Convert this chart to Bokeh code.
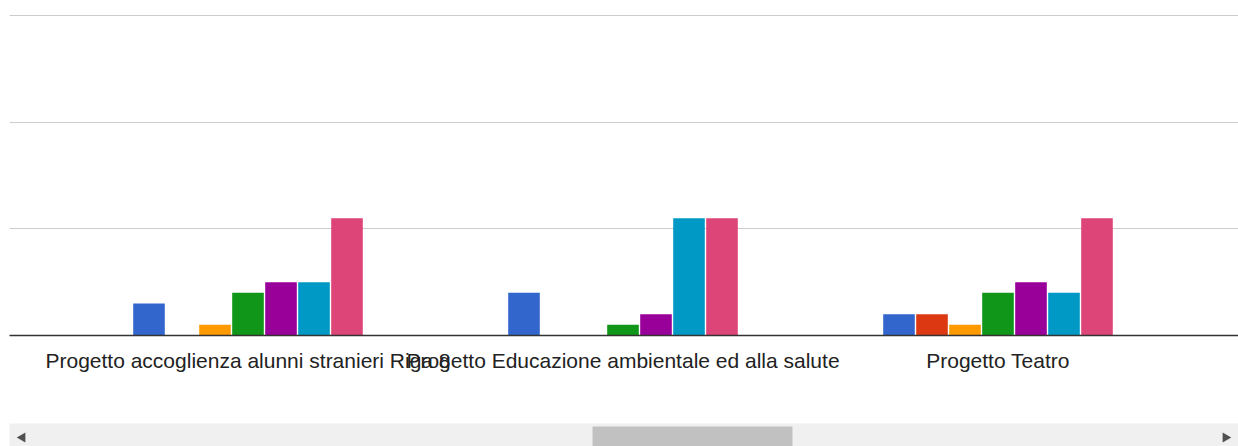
from bokeh.plotting import figure
from bokeh.models import Range1d, FixedTicker, ColumnDataSource
from bokeh.layouts import column
from bokeh.transform import dodge
from bokeh.embed import file_html
from bokeh.resources import INLINE
import math

# ---------------- data ----------------
categories = [
    "Progetto accoglienza alunni stranieri Riga 8",
    "Progetto Educazione ambientale ed alla salute",
    "Progetto Teatro",
]
series_names = ["1", "2", "3", "4", "5", "6", "7"]
series_colors = ["#3366cc", "#dc3912", "#ff9900", "#109618", "#990099", "#0099c6", "#dd4477"]
serie_1 = [3, 4, 2]
serie_2 = [0, 0, 2]
serie_3 = [1, 0, 1]
serie_4 = [4, 1, 4]
serie_5 = [5, 2, 5]
serie_6 = [5, 11, 4]
serie_7 = [11, 11, 11]
series_values = [serie_1, serie_2, serie_3, serie_4, serie_5, serie_6, serie_7]
grid_ticks = [10, 20, 30]

# ---------------- layout constants ----------------
W = 1238
H_CHART = 423
H_SCROLL = 23
LEFT = 9
PX_PER_CAT = 375.0
FRAME_H = 335
Y_TOP = 30 * FRAME_H / 320.0
X_START = (LEFT - 60) / PX_PER_CAT
X_END = X_START + (W - LEFT) / PX_PER_CAT
SLOT = 33.0 / PX_PER_CAT
BAR_W = 31.6 / PX_PER_CAT

data = {"x": [i + 0.5 for i in range(len(categories))]}
for name, vals in zip(series_names, series_values):
    data[name] = vals
src = ColumnDataSource(data)

p = figure(
    width=W, height=H_CHART, output_backend="svg", toolbar_location=None,
    x_range=Range1d(X_START, X_END), y_range=Range1d(0, Y_TOP),
    y_axis_location=None,
    min_border_left=LEFT, min_border_right=0, min_border_top=0,
    min_border_bottom=H_CHART - FRAME_H,
    outline_line_color=None, background_fill_color="white", border_fill_color="white",
)
p.xgrid.visible = False
p.ygrid.ticker = FixedTicker(ticks=grid_ticks)
p.ygrid.grid_line_color = "#cccccc"
p.ygrid.grid_line_width = 1

n = len(series_names)
for j, (name, col) in enumerate(zip(series_names, series_colors)):
    off = (j - (n - 1) / 2.0) * SLOT
    p.vbar(x=dodge("x", off, range=p.x_range), top=name, bottom=0, width=BAR_W,
           source=src, fill_color=col, line_color=None)

ax = p.xaxis[0]
ax.ticker = FixedTicker(ticks=data["x"])
ax.major_label_overrides = {x: c for x, c in zip(data["x"], categories)}
ax.major_tick_line_color = None
ax.minor_tick_line_color = None
ax.major_tick_out = 0
ax.major_label_standoff = 13
ax.axis_line_color = "#333333"
ax.axis_line_width = 1.5
ax.major_label_text_font = "Liberation Sans"
ax.major_label_text_font_size = "21px"
ax.major_label_text_color = "#222222"

# ---------------- fake horizontal scrollbar ----------------
s = figure(
    width=W, height=H_SCROLL, output_backend="svg", toolbar_location=None,
    x_range=Range1d(LEFT, W), y_range=Range1d(0, H_SCROLL),
    x_axis_location=None, y_axis_location=None,
    min_border_left=LEFT, min_border_right=0, min_border_top=0, min_border_bottom=0,
    outline_line_color=None,
    background_fill_color="#f0f0f0", border_fill_color="white",
)
s.xgrid.visible = False
s.ygrid.visible = False
s.quad(left=[592], right=[792], bottom=[0], top=[20], fill_color="#c1c1c1", line_color=None)
s.scatter(x=[22, 1225], y=[9, 9], marker="triangle", size=10,
          angle=[math.pi / 2, -math.pi / 2], fill_color="#505050", line_color=None)

layout = column(p, s, spacing=0)
open("out.html", "w").write(file_html(layout, INLINE))
